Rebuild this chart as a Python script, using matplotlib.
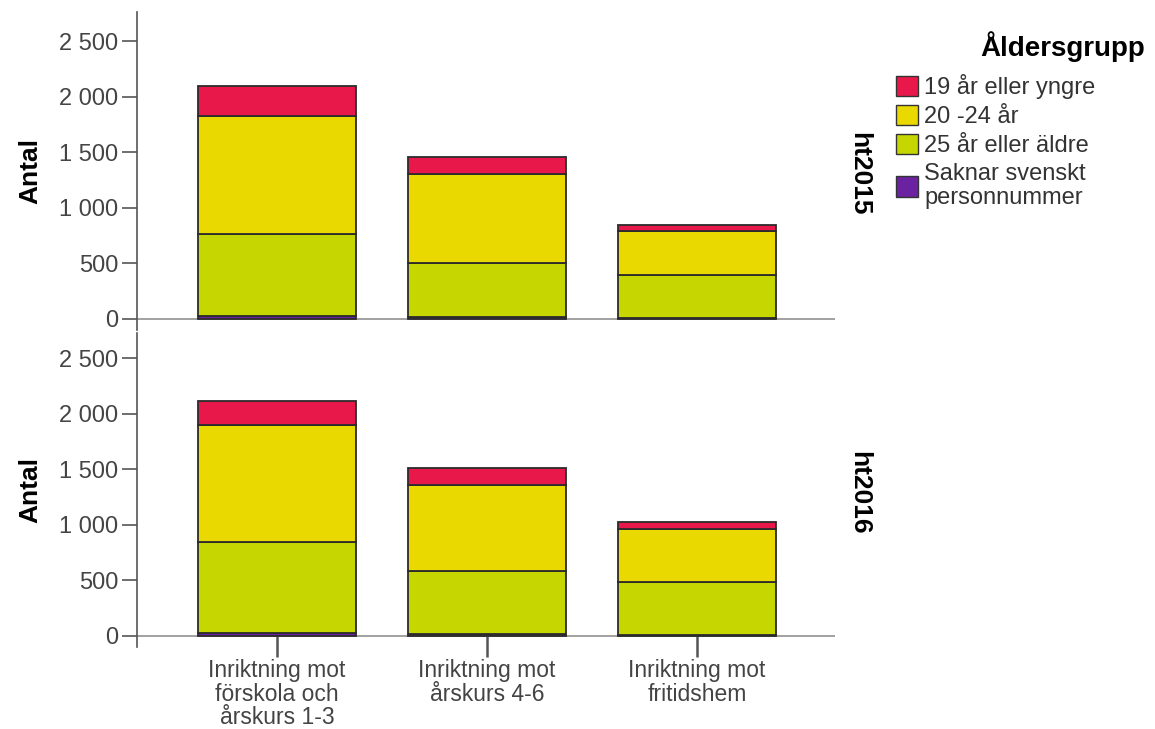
import numpy as np
import matplotlib
matplotlib.use("Agg")
import matplotlib.pyplot as plt
from matplotlib.patches import Patch
from matplotlib.transforms import blended_transform_factory

plt.rcParams['font.family'] = ['Liberation Sans', 'DejaVu Sans']

categories = ["Inriktning mot\nförskola och\nårskurs 1-3",
              "Inriktning mot\nårskurs 4-6",
              "Inriktning mot\nfritidshem"]
groups = ["19 år eller yngre", "20 -24 år", "25 år eller äldre",
          "Saknar svenskt\npersonnummer"]
terms = ["ht2015", "ht2016"]

# counts per term, stacked bottom -> top: saknar, 25+, 20-24, 19-
saknar = {"ht2015": [28, 15, 8], "ht2016": [25, 15, 8]}
aldre25 = {"ht2015": [735, 490, 388], "ht2016": [820, 570, 478]}
mellan = {"ht2015": [1062, 800, 395], "ht2016": [1052, 773, 476]}
yngre19 = {"ht2015": [270, 152, 54], "ht2016": [216, 153, 63]}

colors = {"19": "#E8184B", "20": "#EAD900", "25": "#C6D600", "sak": "#6A22A0"}
yticks = [0, 500, 1000, 1500, 2000, 2500]
ytick_labels = ["0", "500", "1 000", "1 500", "2 000", "2 500"]

W, H = 1155, 729
fig = plt.figure(figsize=(W / 100, H / 100), dpi=100)

def px_axes(left, top, right, bottom):
    return fig.add_axes([left / W, 1 - bottom / H, (right - left) / W, (bottom - top) / H])

# y scale: about 0.1112 px per unit
ax_top = px_axes(137, 12, 835, 330)
ax_bot = px_axes(137, 333, 835, 647)
ylims = [(-99, 2761), (-99, 2725)]

x = np.arange(len(categories))
for ax, term, yl in zip([ax_top, ax_bot], terms, ylims):
    b = np.zeros(len(categories))
    for vals, c in [(saknar[term], colors["sak"]), (aldre25[term], colors["25"]),
                    (mellan[term], colors["20"]), (yngre19[term], colors["19"])]:
        ax.bar(x, vals, bottom=b, width=0.75, color=c, edgecolor="#2b2b2b", linewidth=1.3, zorder=3)
        b = b + np.array(vals)
    ax.set_xlim(-0.667, 2.657)
    ax.set_ylim(*yl)
    ax.axhline(0, color="#9a9a9a", linewidth=1.3, zorder=2)
    for s in ["top", "right", "bottom"]:
        ax.spines[s].set_visible(False)
    ax.spines["left"].set_color("#555555")
    ax.spines["left"].set_linewidth(1.2)
    ax.set_yticks(yticks)
    ax.set_yticklabels(ytick_labels)
    ax.tick_params(axis="y", length=10.5, width=1.2, color="#555555", labelsize=17,
                   labelcolor="#444444", pad=3)
    ax.set_ylabel("Antal", fontsize=19, fontweight="bold", labelpad=12)
    ax.text(1.017, 0.49, term, transform=ax.transAxes, rotation=-90, fontsize=19,
            fontweight="bold", va="center", ha="left")

ax_top.set_xticks([])
ax_bot.set_xticks(x)
ax_bot.set_xticklabels([])
ax_bot.tick_params(axis="x", length=15, width=1.8, color="#555555")
ax_bot.spines["bottom"].set_position(("data", 0))

# category labels as text under the ticks
trans = blended_transform_factory(ax_bot.transData, ax_bot.transAxes)
for xi, cat in zip(x, categories):
    ax_bot.text(xi, -0.037, cat, transform=trans, ha="center", va="top", fontsize=16.5,
                color="#444444", linespacing=1.05)

handles = [Patch(facecolor=colors["19"], edgecolor="#333333"),
           Patch(facecolor=colors["20"], edgecolor="#333333"),
           Patch(facecolor=colors["25"], edgecolor="#333333"),
           Patch(facecolor=colors["sak"], edgecolor="#333333")]
leg = fig.legend(handles, groups, loc="upper left", bbox_to_anchor=(896 / W, 1 - 74 / H),
                 frameon=False, fontsize=17, handlelength=0.95, handleheight=0.95,
                 handletextpad=0.25, labelspacing=0.25, borderpad=0, borderaxespad=0,
                 labelcolor="#333333")
for t in leg.get_texts():
    t.set_linespacing(1.1)
fig.text(1145 / W, 1 - 47 / H, "Åldersgrupp", fontsize=20, fontweight="bold", ha="right", va="center")

fig.savefig("out.png", dpi=100)
